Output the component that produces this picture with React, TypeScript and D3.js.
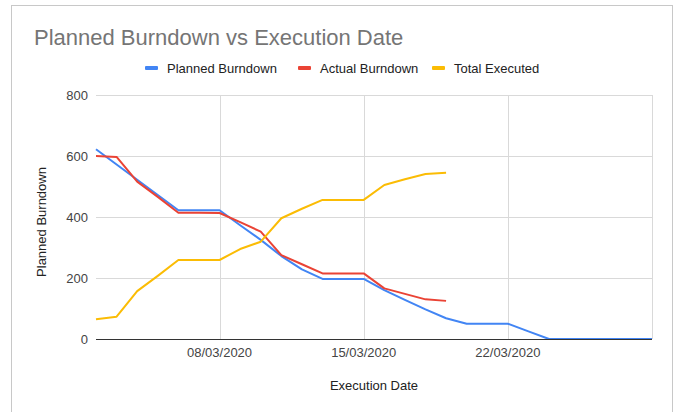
import React, { useEffect, useRef } from 'react';
import * as d3 from 'd3';

// execution dates (day of March 2020)
const days = [2, 3, 4, 5, 6, 7, 8, 9, 10, 11, 12, 13, 14, 15, 16, 17, 18, 19, 20, 21, 22, 23, 24, 25, 26, 27, 28, 29];
const plannedBurndown = [622, 572, 522, 472, 422, 422, 422, 373, 325, 272, 228, 197, 197, 197, 160, 128, 97, 68, 50, 50, 50, 25, 0, 0, 0, 0, 0, 0];
const actualBurndown = [600, 597, 516, 466, 414, 414, 413, 383, 352, 275, 245, 215, 215, 215, 166, 148, 130, 125];
const totalExecuted = [65, 73, 157, 207, 259, 259, 259, 295, 319, 396, 427, 456, 456, 456, 505, 524, 541, 545];

const yTicks = [0, 200, 400, 600, 800];
const gridDays = [8, 15, 22, 29];
const labelDays = [8, 15, 22];

const seriesNames = ['Planned Burndown', 'Actual Burndown', 'Total Executed'];
const seriesColors = ['#4285f4', '#ea4335', '#fbbc04'];

const W = 677;
const H = 412;
const FONT = 'Arial, "Liberation Sans", sans-serif';

export default function App() {
  const svgRef = useRef<SVGSVGElement>(null);

  useEffect(() => {
    const svg = d3.select(svgRef.current);
    svg.selectAll('*').remove();

    const date = (d: number) => new Date(2020, 2, d);
    const x = d3.scaleTime().domain([date(2), date(29)]).range([96, 652]);
    const y = d3.scaleLinear().domain([0, 800]).range([339, 95]);

    svg.append('rect').attr('width', W).attr('height', H).attr('fill', '#fff');
    // outer frame
    svg
      .append('rect')
      .attr('x', 11.5)
      .attr('y', 5.5)
      .attr('width', 661)
      .attr('height', 430)
      .attr('fill', 'none')
      .attr('stroke', '#c8c8c8');

    // title
    svg
      .append('text')
      .attr('x', 34)
      .attr('y', 45)
      .attr('font-family', FONT)
      .attr('font-size', 22)
      .attr('fill', '#757575')
      .text('Planned Burndown vs Execution Date');

    // legend
    const legendX = [145, 298, 432];
    const legend = svg.append('g').attr('font-family', FONT).attr('font-size', 13).attr('fill', '#222');
    seriesNames.forEach((name, i) => {
      legend
        .append('rect')
        .attr('x', legendX[i])
        .attr('y', 66)
        .attr('width', 13)
        .attr('height', 4)
        .attr('rx', 1)
        .attr('fill', seriesColors[i]);
      legend
        .append('text')
        .attr('x', legendX[i] + 22)
        .attr('y', 72.5)
        .text(name);
    });

    // gridlines
    const grid = svg.append('g').attr('stroke', '#d9d9d9').attr('stroke-width', 1);
    grid
      .selectAll('line.h')
      .data(yTicks.filter((t) => t > 0))
      .join('line')
      .attr('x1', 96)
      .attr('x2', 652)
      .attr('y1', (d) => Math.round(y(d)) + 0.5)
      .attr('y2', (d) => Math.round(y(d)) + 0.5);
    grid
      .selectAll('line.v')
      .data(gridDays)
      .join('line')
      .attr('x1', (d) => Math.round(x(date(d))) + 0.5)
      .attr('x2', (d) => Math.round(x(date(d))) + 0.5)
      .attr('y1', 95)
      .attr('y2', 339);

    // y tick labels
    svg
      .append('g')
      .attr('font-family', FONT)
      .attr('font-size', 13)
      .attr('fill', '#444')
      .attr('text-anchor', 'end')
      .selectAll('text')
      .data(yTicks)
      .join('text')
      .attr('x', 88)
      .attr('y', (d) => y(d) + 4.5)
      .text((d) => d);

    // x tick labels
    svg
      .append('g')
      .attr('font-family', FONT)
      .attr('font-size', 13)
      .attr('fill', '#444')
      .attr('text-anchor', 'middle')
      .selectAll('text')
      .data(labelDays)
      .join('text')
      .attr('x', (d) => x(date(d)))
      .attr('y', 357)
      .text((d) => d3.timeFormat('%d/%m/%Y')(date(d)));

    // axis titles
    svg
      .append('text')
      .attr('x', 374)
      .attr('y', 390)
      .attr('text-anchor', 'middle')
      .attr('font-family', FONT)
      .attr('font-size', 13)
      .attr('fill', '#222')
      .text('Execution Date');
    svg
      .append('text')
      .attr('transform', 'translate(46,222) rotate(-90)')
      .attr('text-anchor', 'middle')
      .attr('font-family', FONT)
      .attr('font-size', 13)
      .attr('fill', '#222')
      .text('Planned Burndown');

    // lines
    const line = d3
      .line<number>()
      .x((_, i) => x(date(days[i])))
      .y((d) => y(d));
    [plannedBurndown, actualBurndown, totalExecuted].forEach((series, i) => {
      svg
        .append('path')
        .attr('d', line(series))
        .attr('fill', 'none')
        .attr('stroke', seriesColors[i])
        .attr('stroke-width', 2)
        .attr('stroke-linejoin', 'round');
    });

    // baseline
    svg
      .append('line')
      .attr('x1', 96)
      .attr('x2', 652)
      .attr('y1', 339.5)
      .attr('y2', 339.5)
      .attr('stroke', '#333')
      .attr('stroke-width', 1);
  }, []);

  return (
    <>
      <style>{`body{margin:0}`}</style>
      <svg ref={svgRef} width={W} height={H} style={{ display: 'block' }}></svg>
    </>
  );
}
